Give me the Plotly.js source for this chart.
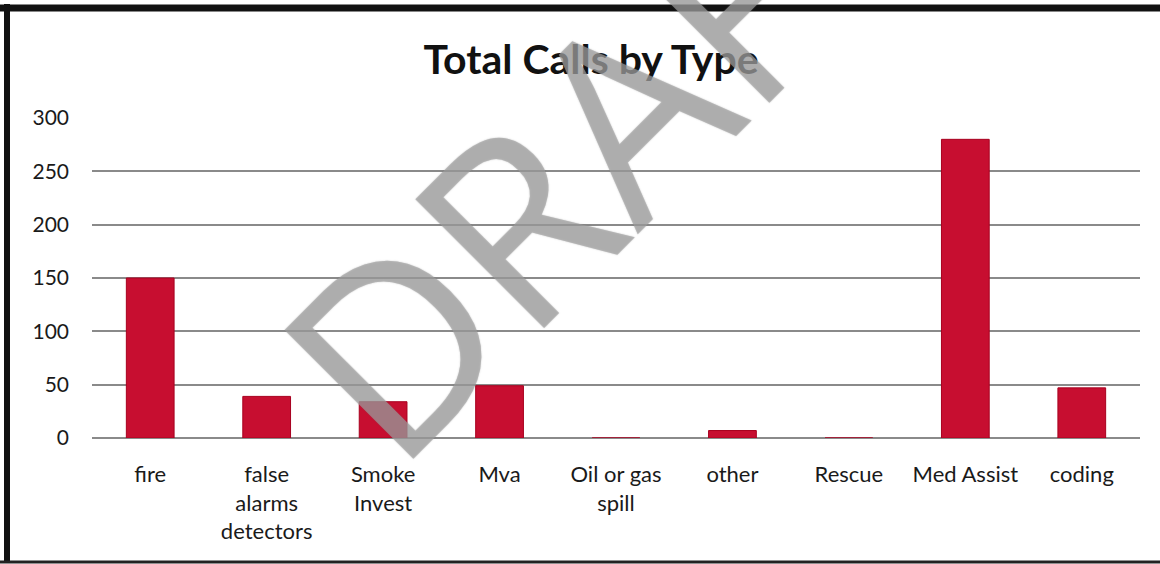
<!DOCTYPE html>
<html>
<head>
<meta charset="utf-8">
<script src="https://cdn.plot.ly/plotly-3.0.1.min.js"></script>
<style>
  html, body { margin: 0; padding: 0; background: #ffffff; }
  #chart { width: 1160px; height: 564px; }
</style>
</head>
<body>
<div id="chart"></div>
<script>
// ---- data ----
const categories = ["fire", "false alarms detectors", "Smoke Invest", "Mva", "Oil or gas spill", "other", "Rescue", "Med Assist", "coding"];
const tickLabels = ["fire", "false<br>alarms<br>detectors", "Smoke<br>Invest", "Mva", "Oil or gas<br>spill", "other", "Rescue", "Med Assist", "coding"];
const calls = [150, 39, 34, 49, 0, 7, 0, 280, 47];
const yTicks = [0, 50, 100, 150, 200, 250, 300];
const chartTitle = "Total Calls by Type";
const watermark = "DRAFT";

// ---- layout geometry (pixels) ----
const W = 1160, H = 564;
const L = 92, R = 20, T = 118, B = 126;
const pw = W - L - R, ph = H - T - B;
const px = x => (x - L) / pw;           // pixel -> paper x
const py = y => (H - B - y) / ph;       // pixel -> paper y

const trace = {
  type: "bar",
  x: categories,
  y: calls,
  marker: { color: "#c70e30", line: { color: "#a8001f", width: 1 } },
  hoverinfo: "x+y"
};

const layout = {
  width: W, height: H,
  margin: { l: L, r: R, t: T, b: B },
  paper_bgcolor: "#ffffff",
  plot_bgcolor: "#ffffff",
  showlegend: false,
  bargap: 0.59,
  font: { family: "Lato, 'Open Sans', sans-serif", color: "#1a1a1a" },
  title: {
    text: "<b>" + chartTitle + "</b>",
    font: { family: "Lato, 'Open Sans', sans-serif", size: 41, color: "#111111" },
    x: 591 / W, xanchor: "center",
    y: 1 - 60 / H, yanchor: "middle", yref: "container"
  },
  xaxis: {
    type: "category",
    tickvals: categories,
    ticktext: tickLabels,
    tickfont: { size: 22, color: "#1a1a1a" },
    showgrid: false,
    showline: false,
    ticks: "",
    ticklabelstandoff: 21,
    zeroline: false,
    fixedrange: true
  },
  yaxis: {
    range: [0, 300],
    tickvals: yTicks,
    ticktext: yTicks.map(String),
    tickfont: { size: 21, color: "#1a1a1a" },
    showgrid: true,
    gridcolor: "#8a8a8a",
    gridwidth: 1.8,
    zeroline: true,
    zerolinecolor: "#8a8a8a",
    zerolinewidth: 1.8,
    showline: false,
    ticks: "",
    ticklabelstandoff: 22,
    fixedrange: true
  },
  shapes: [
    // outer frame (top, left, bottom)
    { type: "line", xref: "paper", yref: "paper", x0: px(0), x1: px(W), y0: py(8), y1: py(8), line: { color: "#111", width: 7 } },
    { type: "line", xref: "paper", yref: "paper", x0: px(7), x1: px(7), y0: py(4), y1: py(563), line: { color: "#111", width: 6 } },
    { type: "line", xref: "paper", yref: "paper", x0: px(0), x1: px(W), y0: py(562), y1: py(562), line: { color: "#222", width: 3 } }
  ],
  annotations: [
    {
      text: watermark,
      xref: "paper", yref: "paper",
      x: px(600), y: py(132),
      xanchor: "center", yanchor: "middle",
      textangle: -45,
      showarrow: false,
      font: {
        family: "'Open Sans', 'Liberation Sans', sans-serif", weight: 400, size: 255,
        color: "rgba(165,165,165,0.62)",
        shadow: "0 0 1.5px rgba(100,100,100,0.7)"
      }
    }
  ]
};

Plotly.newPlot("chart", [trace], layout, { displayModeBar: false, staticPlot: true });
</script>
</body>
</html>
